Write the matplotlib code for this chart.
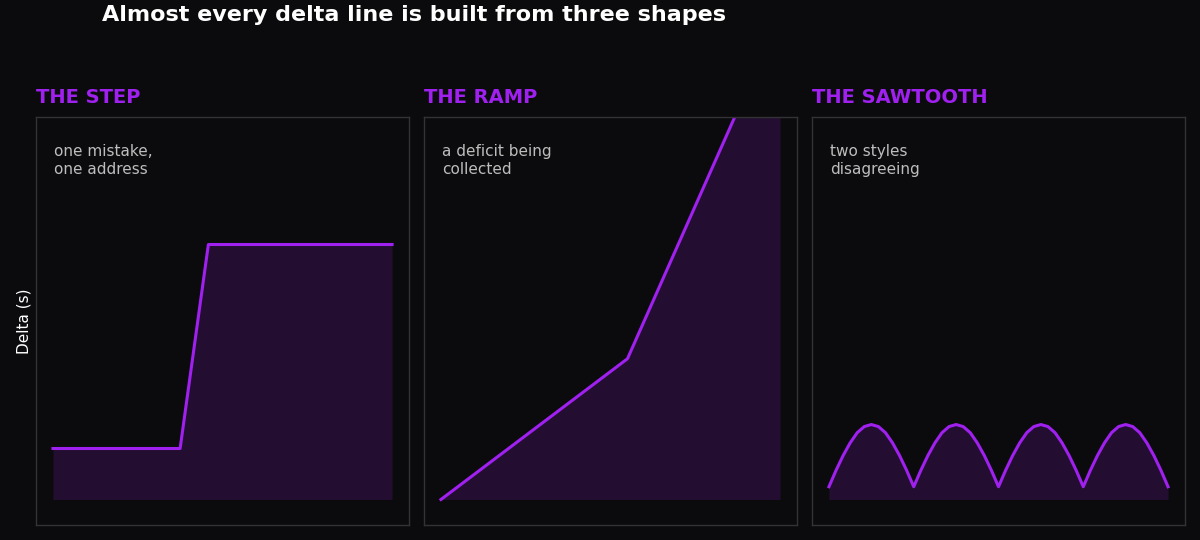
import numpy as np
import matplotlib
matplotlib.use('Agg')
import matplotlib.pyplot as plt

plt.rcParams['font.family'] = ['DejaVu Sans']

bg = '#0b0b0d'
purple = '#a020f0'
fill_col = '#230e31'
spine_col = '#333336'
note_col = '#bdbdbd'

# panel titles and notes
titles = ['THE STEP', 'THE RAMP', 'THE SAWTOOTH']
notes = ['one mistake,\none address', 'a deficit being\ncollected', 'two styles\ndisagreeing']

# step: hours vs delta (s)
step_x = [0, 9, 11, 24]
step_y = [1.0, 1.0, 5.0, 5.0]

# ramp
ramp_x = [0, 11, 20]
ramp_y = [0.0, 2.76, 9.5]

# sawtooth (12 samples per arch)
saw_x = [i / 12 for i in range(49)]
saw_y = [0.25, 0.57, 0.86, 1.11, 1.31, 1.43, 1.47, 1.43, 1.31, 1.11, 0.86, 0.57,
         0.25, 0.57, 0.86, 1.11, 1.31, 1.43, 1.47, 1.43, 1.31, 1.11, 0.86, 0.57,
         0.25, 0.57, 0.86, 1.11, 1.31, 1.43, 1.47, 1.43, 1.31, 1.11, 0.86, 0.57,
         0.25, 0.57, 0.86, 1.11, 1.31, 1.43, 1.47, 1.43, 1.31, 1.11, 0.86, 0.57,
         0.25]

series = [(step_x, step_y), (ramp_x, ramp_y), (saw_x, saw_y)]

fig = plt.figure(figsize=(12, 5.4), dpi=100, facecolor=bg)
lefts = [36, 424, 812]
axes = []
for ii, (xs, ys) in enumerate(series):
    ax = fig.add_axes([lefts[ii] / 1200, 15 / 540, 373 / 1200, 408 / 540])
    ax.set_facecolor(bg)
    ax.fill_between(xs, ys, 0, color=fill_col, lw=0)
    ax.plot(xs, ys, color=purple, lw=2.2)
    ax.set_ylim(-0.5, 7.5)
    ax.margins(x=0.05)
    ax.set_xticks([])
    ax.set_yticks([])
    for sp in ax.spines.values():
        sp.set_color(spine_col)
        sp.set_linewidth(1)
    ax.set_title(titles[ii], loc='left', color=purple, fontsize=14,
                 fontweight='bold', pad=10)
    ax.text(0.048, 0.935, notes[ii], transform=ax.transAxes, color=note_col,
            fontsize=11, va='top', ha='left', linespacing=1.3)
    axes.append(ax)

axes[0].set_ylabel('Delta (s)', color='white', fontsize=11, labelpad=3)

fig.text(102 / 1200, 1 - 15 / 540, 'Almost every delta line is built from three shapes',
         color='white', fontsize=16, fontweight='bold', ha='left', va='center')

fig.savefig('out.png', facecolor=bg)
